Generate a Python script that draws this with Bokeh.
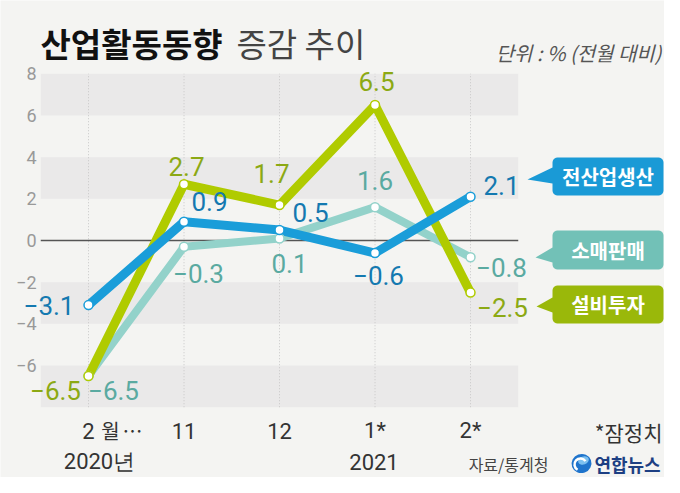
import numpy as np
from bokeh.plotting import figure
from bokeh.models import Range1d, ColumnDataSource
from bokeh.core.properties import value
from bokeh.embed import file_html
from bokeh.resources import INLINE

# ---------------- data ----------------
months = ["2", "11", "12", "1*", "2*"]
year_labels = ["2020년", "2021"]
year_index = [0, 3]
production = [-3.1, 0.9, 0.5, -0.6, 2.1]    # 전산업생산
retail = [-6.5, -0.3, 0.1, 1.6, -0.8]       # 소매판매
investment = [-6.5, 2.7, 1.7, 6.5, -2.5]    # 설비투자
series_names = ["전산업생산", "소매판매", "설비투자"]
y_ticks = [8, 6, 4, 2, 0, -2, -4, -6]
band_bottoms = [6, 2, -4, -8]
band_tops = [8, 4, -2, -6]

# ---------------- styles ----------------
BG = "#f4f4f2"
BAND = "#eae9e9"
NUM_FONT = "Roboto"
KR_FONT = "Noto Sans CJK KR"

W, H = 664, 477
X0, DX, Y0, DY = 88.0, 95.5, 240.0, 20.84   # pixel calibration


def fx(px):
    return (px - X0) / DX


def fy(py):
    return (Y0 - py) / DY


def fmt(v):
    return f"{v:.1f}".replace("-", "\u2212")


p = figure(width=W, height=H,
           x_range=Range1d(fx(0), fx(W)), y_range=Range1d(fy(H), fy(0)),
           output_backend="svg", toolbar_location=None,
           x_axis_location=None, y_axis_location=None,
           min_border=0, outline_line_color=None,
           background_fill_color=BG, border_fill_color=BG)
p.grid.visible = False

idx = list(range(len(months)))

# bands
p.quad(left=-0.5, right=len(months) - 0.5, bottom=band_bottoms, top=band_tops,
       fill_color=BAND, line_color=None)
# vertical dotted guides
p.segment(x0=idx, y0=band_bottoms[-1], x1=idx, y1=band_tops[0],
          line_color="#c8c8c8", line_dash="1 2", line_width=1)
# zero line
p.segment(x0=[-0.5], y0=[0], x1=[len(months) - 0.5], y1=[0],
          line_color="#555555", line_width=1.3)

# y tick labels
p.text(x=[fx(36)] * len(y_ticks), y=y_ticks,
       text=[str(t).replace("-", "\u2212") for t in y_ticks],
       text_align="right", text_baseline="middle",
       text_font=value(NUM_FONT), text_font_size="18px", text_color="#999999")

# x labels
p.text(x=idx, y=[fy(430)] * len(idx), text=months, text_align="center",
       text_baseline="middle", text_font=value(NUM_FONT), text_font_size="22px",
       text_color="#333333")
p.text(x=[fx(110), fx(132)], y=[fy(430), fy(430)], text=["월", "⋯"],
       text_align="center", text_baseline="middle", text_font=value(KR_FONT),
       text_font_size="20px", text_color="#333333")
p.text(x=year_index, y=[fy(461)] * 2, text=year_labels, x_offset=[11, -1],
       text_align="center", text_baseline="middle", text_font=value(NUM_FONT),
       text_font_size="22px", text_color="#333333")

# series
series = [
    (retail, "#93d2ca", "#5aaaa1", 8,
     [25, 14.5, 10, 0, 31], [14.5, 26.7, 25, -26.7, 10.3]),
    (investment, "#b0cb00", "#8ca914", 9,
     [-33, 2.5, -8, 1.5, 32], [14.5, -17.7, -31.6, -23.5, 15]),
    (production, "#1a9dd9", "#1479b0", 9,
     [-39.5, 25.5, 31, 3.5, 31], [0, -20, -17.6, 22.5, -11]),
]
for vals, lc, _, lw, _, _ in series:
    p.line(idx, vals, line_color=lc, line_width=lw, line_join="round", line_cap="round")
for vals, lc, _, lw, _, _ in series:
    p.scatter(idx, vals, size=9, fill_color="white", line_color=lc, line_width=1.5)
for vals, lc, tc, lw, dxs, dys in series:
    src = ColumnDataSource(dict(x=idx, y=vals, t=[fmt(v) for v in vals], dx=dxs, dy=dys))
    p.text(x="x", y="y", text="t", x_offset="dx", y_offset="dy", source=src,
           text_align="center", text_baseline="middle", text_font=value(NUM_FONT),
           text_font_size="26px", text_color=tc)


# callouts (legend)
def callout_poly(x0, y0, x1, y1, wt, wb, tx, ty, r=5):
    pts = []
    for cx, cy, a0, a1 in [(x1 - r, y0 + r, -90, 0), (x1 - r, y1 - r, 0, 90),
                           (x0 + r, y1 - r, 90, 180)]:
        for a in np.linspace(np.radians(a0), np.radians(a1), 6):
            pts.append((cx + r * np.cos(a), cy + r * np.sin(a)))
    pts += [(x0, wb), (tx, ty), (x0, wt)]
    for a in np.linspace(np.radians(180), np.radians(270), 6):
        pts.append((x0 + r + r * np.cos(a), y0 + r + r * np.sin(a)))
    return [fx(q[0]) for q in pts], [fy(q[1]) for q in pts]


callouts = [
    (series_names[0], "#1a9ad6", (552, 157, 663, 195, 167, 183, 527, 179)),
    (series_names[1], "#72c1b7", (552, 230, 663, 269, 247, 262, 535, 257)),
    (series_names[2], "#9ab80a", (552, 285, 663, 323, 297, 312, 536, 306)),
]
for name, col, geo in callouts:
    xs, ys = callout_poly(*geo)
    p.patch(xs, ys, fill_color=col, line_color=None)
    p.text(x=[fx((geo[0] + geo[2]) / 2)], y=[fy((geo[1] + geo[3]) / 2)], text=[name],
           text_align="center", text_baseline="middle", text_font=value(KR_FONT),
           text_font_style="bold", text_font_size="20px", text_color="white")

# titles and notes
p.text(x=[fx(40)], y=[fy(42)], text=["산업활동동향"], text_align="left",
       text_baseline="middle", text_font=value(KR_FONT), text_font_style="bold",
       text_font_size="33px", text_color="#111111")
p.text(x=[fx(236)], y=[fy(42)], text=["증감 추이"], text_align="left",
       text_baseline="middle", text_font=value(KR_FONT),
       text_font_size="33px", text_color="#444444")
p.text(x=[fx(661)], y=[fy(52)], text=["단위 : % (전월 대비)"], text_align="right",
       text_baseline="middle", text_font=value(KR_FONT), text_font_style="italic",
       text_font_size="20px", text_color="#555555")
p.text(x=[fx(662)], y=[fy(431)], text=["*잠정치"], text_align="right",
       text_baseline="middle", text_font=value(KR_FONT),
       text_font_size="21px", text_color="#333333")
p.text(x=[fx(548)], y=[fy(463)], text=["자료/통계청"], text_align="right",
       text_baseline="middle", text_font=value(KR_FONT),
       text_font_size="16px", text_color="#444444")

# logo
p.ellipse(x=[fx(581)], y=[fy(463)], width=[20], height=[19], angle=0.35,
          width_units="screen", height_units="screen",
          fill_color="#1f74cc", line_color=None)
p.ellipse(x=[fx(583)], y=[fy(460)], width=[11], height=[8], angle=0.35,
          width_units="screen", height_units="screen",
          fill_color="#7cc0f0", line_color=None)
p.arc(x=[fx(580)], y=[fy(464)], radius=6, radius_units="screen",
      start_angle=0.6, end_angle=4.2, line_color="white", line_width=2.5)
p.text(x=[fx(627)], y=[fy(463)], text=["연합뉴스"], text_align="center",
       text_baseline="middle", text_font=value(KR_FONT), text_font_style="bold",
       text_font_size="18px", text_color="#1d3f83")

open("out.html", "w").write(file_html(p, INLINE))
